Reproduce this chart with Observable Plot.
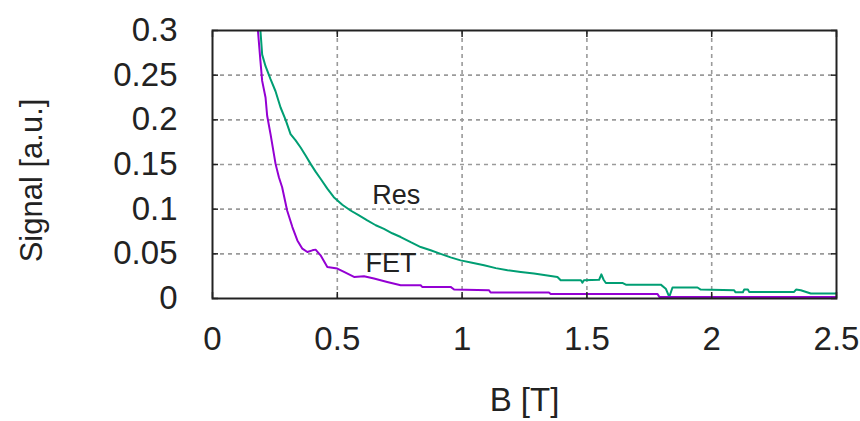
<!DOCTYPE html>
<html>
<head>
<meta charset="utf-8">
<script src="https://cdn.jsdelivr.net/npm/d3@7"></script>
<script src="https://cdn.jsdelivr.net/npm/@observablehq/plot@0.6"></script>
<style>
  html, body { margin: 0; padding: 0; background: #fff; }
  svg { font-family: "Liberation Sans", Arial, sans-serif; }
</style>
</head>
<body>
<div id="chart"></div>
<script>
// Res (green) series
const resB = [0.192,0.199,0.2125,0.2325,0.2525,0.2727,0.293,0.3127,0.333,0.353,0.373,0.393,0.413,0.433,0.46,0.486,0.52,0.553,0.587,0.62,0.654,0.687,0.72,0.754,0.794,0.834,0.874,0.914,0.954,0.994,1.04,1.088,1.135,1.182,1.235,1.288,1.335,1.382,1.395,1.476,1.482,1.488,1.549,1.558,1.567,1.576,1.642,1.656,1.796,1.816,1.83,1.843,1.943,1.956,2.09,2.095,2.125,2.13,2.145,2.15,2.33,2.338,2.357,2.397,2.5];
const resS = [0.300,0.273,0.260,0.2455,0.232,0.2138,0.200,0.184,0.177,0.169,0.160,0.1507,0.142,0.134,0.123,0.1134,0.105,0.0985,0.093,0.0874,0.082,0.078,0.073,0.0688,0.063,0.0576,0.054,0.050,0.046,0.0427,0.040,0.0372,0.034,0.0316,0.0296,0.0279,0.026,0.0241,0.0204,0.0204,0.0178,0.0204,0.021,0.027,0.021,0.0174,0.0174,0.0155,0.0155,0.011,0.0018,0.0123,0.0123,0.010,0.0093,0.007,0.007,0.010,0.010,0.0074,0.0074,0.010,0.0093,0.0056,0.0056];

// FET (purple) series
const fetB = [0.182,0.192,0.199,0.2125,0.219,0.2325,0.2526,0.266,0.279,0.299,0.32,0.34,0.36,0.38,0.4,0.413,0.433,0.46,0.5,0.527,0.567,0.607,0.647,0.70,0.754,0.834,0.84,0.954,0.968,1.108,1.114,1.348,1.355,1.783,1.79,2.5];
const fetS = [0.300,0.266,0.2436,0.225,0.2046,0.184,0.1507,0.1357,0.1246,0.0985,0.080,0.065,0.0558,0.052,0.0539,0.0547,0.0483,0.0353,0.0335,0.0297,0.0241,0.0249,0.0223,0.0185,0.0148,0.0148,0.013,0.013,0.010,0.0093,0.0067,0.0067,0.005,0.005,0.0018,0.0018];

// Ticks and labels
const xTicks = [0, 0.5, 1, 1.5, 2, 2.5];
const xTickLabels = ["0", "0.5", "1", "1.5", "2", "2.5"];
const yTicks = [0, 0.05, 0.1, 0.15, 0.2, 0.25, 0.3];
const yTickLabels = ["0", "0.05", "0.1", "0.15", "0.2", "0.25", "0.3"];
const xGrid = [0.5, 1, 1.5, 2];
const yGrid = [0.05, 0.1, 0.15, 0.2, 0.25];

// Series labels
const seriesNames = ["Res", "FET"];
const seriesLabelB = [0.64, 0.613];
const seriesLabelS = [0.106, 0.0297];
const seriesColors = ["#009e73", "#9400d3"];

const resData = resB.map((b, i) => ({B: b, S: resS[i]}));
const fetData = fetB.map((b, i) => ({B: b, S: fetS[i]}));
const labelData = seriesNames.map((n, i) => ({name: n, B: seriesLabelB[i], S: seriesLabelS[i]}));

const fx = d => xTickLabels[xTicks.indexOf(d)] ?? "";
const fy = d => yTickLabels[yTicks.findIndex(t => Math.abs(t - d) < 1e-9)] ?? "";

const textColor = "#222";
const gridStyle = {stroke: "#9a9a9a", strokeOpacity: 1, strokeWidth: 1.6, strokeDasharray: "4,4"};
const tickStyle = {stroke: "#222", strokeWidth: 1.5, tickSize: 6};

const chart = Plot.plot({
  width: 860,
  height: 421,
  marginLeft: 212,
  marginRight: 24,
  marginTop: 30,
  marginBottom: 123,
  style: {fontFamily: '"Liberation Sans", Arial, sans-serif', color: textColor, background: "#fff"},
  x: {domain: [0, 2.5]},
  y: {domain: [0, 0.3]},
  marks: [
    Plot.gridX(xGrid, gridStyle),
    Plot.gridY(yGrid, gridStyle),
    Plot.line(resData, {x: "B", y: "S", stroke: seriesColors[0], strokeWidth: 2, clip: true}),
    Plot.line(fetData, {x: "B", y: "S", stroke: seriesColors[1], strokeWidth: 2, clip: true}),
    // inward ticks on all four sides
    Plot.axisX(xTicks, {anchor: "bottom", text: null, dy: -6, ...tickStyle, label: null}),
    Plot.axisX(xTicks, {anchor: "top", text: null, dy: 6, ...tickStyle, label: null}),
    Plot.axisY(yTicks, {anchor: "left", text: null, dx: 6, ...tickStyle, label: null}),
    Plot.axisY(yTicks, {anchor: "right", text: null, dx: -6, ...tickStyle, label: null}),
    // tick labels
    Plot.axisX(xTicks, {anchor: "bottom", tickSize: 0, tickPadding: 28, tickFormat: fx, fontSize: 33, fill: textColor,
      label: "B [T]", labelAnchor: "center", labelArrow: "none", labelOffset: 112}),
    Plot.axisY(yTicks, {anchor: "left", tickSize: 0, tickPadding: 35, tickFormat: fy, fontSize: 33, fill: textColor, label: null}),
    Plot.text(["Signal [a.u.]"], {frameAnchor: "left", textAnchor: "middle", lineAnchor: "middle", rotate: -90, dx: -180, dy: 16, fontSize: 31, fill: textColor}),
    Plot.text(labelData, {x: "B", y: "S", text: "name", textAnchor: "start", lineAnchor: "bottom", fontSize: 27, fill: textColor}),
    Plot.frame({stroke: "#222", strokeWidth: 2})
  ]
});
document.getElementById("chart").appendChild(chart);
</script>
</body>
</html>
